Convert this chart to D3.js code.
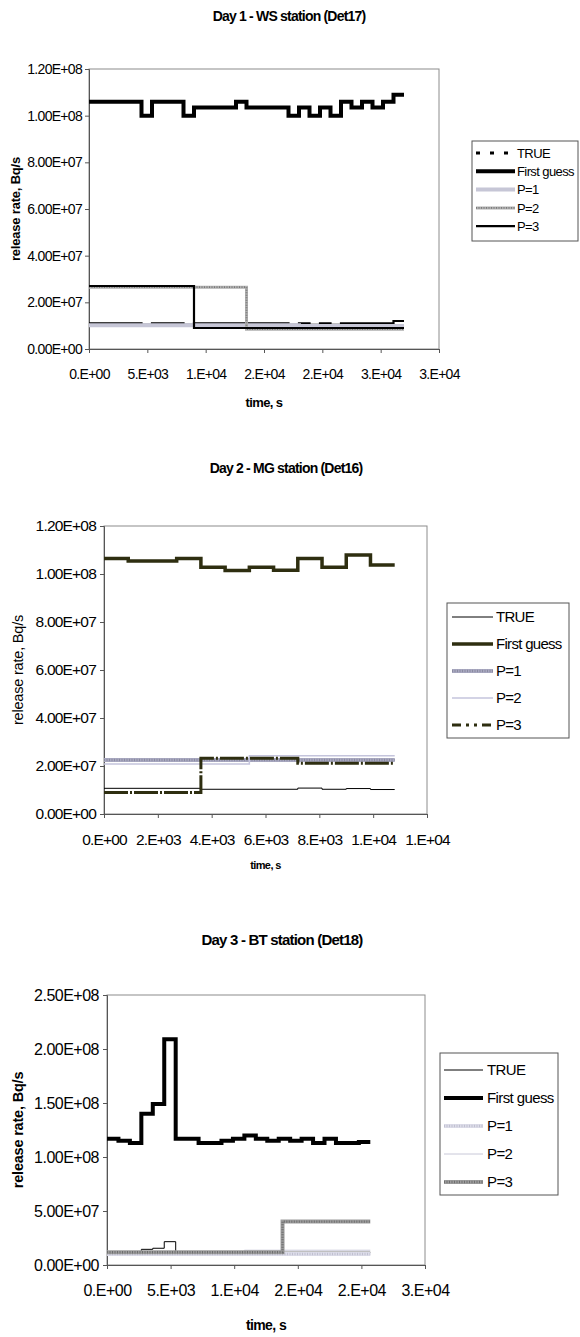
<!DOCTYPE html>
<html>
<head>
<meta charset="utf-8">
<script src="https://cdn.jsdelivr.net/npm/d3@7"></script>
<style>
  body { margin: 0; background: #fff; }
  text { font-family: "Liberation Sans", Arial, sans-serif; fill: #000; }
</style>
</head>
<body>
<script>
// ---- data: step series as [time s, release rate Bq/s] change points ----

var seriesNames = ["TRUE", "First guess", "P=1", "P=2", "P=3"];

// Day 1 - WS station
var d1True = [[0,1.1e7],[4500,1.04e7],[5400,1.1e7],[8100,1.04e7],[9000,1.1e7],[17100,1.04e7],[18000,1.1e7],
  [18900,1.04e7],[19800,1.1e7],[20700,1.04e7],[21600,1.1e7],[26100,1.2e7],[27000,1.2e7]];
var d1First = [[0,1.06e8],[4500,1.0e8],[5400,1.06e8],[8100,1.0e8],[9000,1.035e8],[12600,1.06e8],[13500,1.035e8],
  [17100,1.0e8],[18000,1.035e8],[18900,1.0e8],[19800,1.035e8],[20700,1.0e8],[21600,1.06e8],[22500,1.035e8],
  [23400,1.06e8],[24300,1.035e8],[25200,1.06e8],[26100,1.09e8],[27000,1.09e8]];
var d1P1 = [[0,1.02e7],[18000,0.99e7],[27000,0.99e7]];
var d1P2 = [[0,2.65e7],[13500,0.85e7],[27000,0.85e7]];
var d1P3 = [[0,2.7e7],[9000,0.9e7],[27000,0.9e7]];
var d1XTicks = [0,5000,10000,15000,20000,25000,30000];
var d1YTicks = [0,2e7,4e7,6e7,8e7,1e8,1.2e8];

// Day 2 - MG station
var d2True = [[0,1.07e7],[3600,1.03e7],[7200,1.08e7],[8100,1.03e7],[9000,1.06e7],[9900,1.02e7],[10800,1.02e7]];
var d2First = [[0,1.065e8],[900,1.054e8],[2700,1.065e8],[3600,1.028e8],[4500,1.015e8],[5400,1.028e8],
  [6300,1.016e8],[7200,1.065e8],[8100,1.028e8],[9000,1.079e8],[9900,1.038e8],[10800,1.038e8]];
var d2P1 = [[0,2.25e7],[10800,2.25e7]];
var d2P2 = [[0,2.08e7],[5400,2.43e7],[10800,2.43e7]];
var d2P3 = [[0,0.9e7],[3600,2.32e7],[7200,2.11e7],[10800,2.11e7]];
var d2XTicks = [0,2000,4000,6000,8000,10000,12000];
var d2YTicks = [0,2e7,4e7,6e7,8e7,1e8,1.2e8];

// Day 3 - BT station
var d3True = [[0,1.18e7],[2700,1.45e7],[3600,1.55e7],[4500,2.16e7],[5400,1.18e7],[20700,1.18e7]];
var d3First = [[0,1.17e8],[900,1.15e8],[1800,1.13e8],[2700,1.4e8],[3600,1.49e8],[4500,2.09e8],[5400,1.17e8],
  [7200,1.13e8],[9000,1.15e8],[9900,1.17e8],[10800,1.2e8],[11700,1.17e8],[12600,1.15e8],[13500,1.17e8],
  [14400,1.15e8],[15300,1.17e8],[16200,1.13e8],[17100,1.17e8],[18000,1.13e8],[19800,1.14e8],[20700,1.14e8]];
var d3P1 = [[0,1.02e7],[20700,1.02e7]];
var d3P2 = [[0,1.18e7],[10800,1.37e7],[20700,1.37e7]];
var d3P3 = [[0,1.18e7],[13800,4.02e7],[20700,4.02e7]];
var d3XTicks = [0,5000,10000,15000,20000,25000];
var d3YTicks = [0,5e7,1e8,1.5e8,2e8,2.5e8];

// Excel style number formats
function fmtY(v) {
  var s = v.toExponential(2).toUpperCase();
  return s.replace(/E([+-])(\d)$/, "E$10$2");
}
function fmtX(v) {
  var s = v.toExponential(0);
  return s.replace(/e([+-])(\d+)$/, function(m, sg, d) { return ".E" + sg + (d.length < 2 ? "0" + d : d); });
}

var svg = d3.select("body").append("svg")
  .attr("width", 580)
  .attr("height", 1337);

function drawChart(c) {
  var g = svg.append("g");

  var x = d3.scaleLinear().domain([0, c.xMax]).range([c.left, c.right]);
  var y = d3.scaleLinear().domain([0, c.yMax]).range([c.bottom, c.top]);

  // plot frame
  g.append("rect")
    .attr("x", c.left).attr("y", c.top)
    .attr("width", c.right - c.left).attr("height", c.bottom - c.top)
    .attr("fill", "none").attr("stroke", "#8c8c8c").attr("stroke-width", 1);

  // y axis
  var yAxis = g.append("g").attr("transform", "translate(" + c.left + ",0)")
    .call(d3.axisLeft(y).tickValues(c.yTicks).tickFormat(fmtY).tickSize(4).tickPadding(c.yPad));
  // x axis
  var xAxis = g.append("g").attr("transform", "translate(0," + c.bottom + ")")
    .call(d3.axisBottom(x).tickValues(c.xTicks).tickFormat(fmtX).tickSize(4).tickPadding(c.xPad));

  [yAxis, xAxis].forEach(function(a) {
    a.select(".domain").attr("stroke", "#555");
    a.selectAll(".tick line").attr("stroke", "#555");
    a.selectAll(".tick text")
      .style("font-family", '"Liberation Sans", Arial, sans-serif')
      .style("font-size", c.tickSize + "px")
      .style("letter-spacing", c.tickLs + "px")
      .attr("fill", "#000");
  });

  // series
  var line = d3.line()
    .curve(d3.curveStepAfter)
    .x(function(d) { return x(d[0]); })
    .y(function(d) { return y(d[1]); });

  c.series.forEach(function(s) {
    g.append("path")
      .attr("d", line(s.values))
      .attr("fill", "none")
      .attr("stroke", s.color)
      .attr("stroke-width", s.width)
      .attr("stroke-dasharray", s.dash || null);
    if (s.tex) {
      g.append("path")
        .attr("d", line(s.values))
        .attr("fill", "none")
        .attr("stroke", s.tex)
        .attr("stroke-width", s.width * 0.6)
        .attr("stroke-dasharray", "1,1.5");
    }
  });

  // titles
  g.append("text")
    .attr("x", c.titleX).attr("y", c.titleY)
    .attr("text-anchor", "middle")
    .style("font-weight", "bold")
    .style("font-size", c.titleSize + "px")
    .style("letter-spacing", "-0.8px")
    .text(c.title);

  g.append("text")
    .attr("x", (c.left + c.right) / 2).attr("y", c.xTitleY)
    .attr("text-anchor", "middle")
    .style("font-weight", "bold")
    .style("font-size", c.xTitleSize + "px")
    .style("letter-spacing", "-0.6px")
    .text("time, s");

  g.append("text")
    .attr("transform", "translate(" + c.yTitleX + "," + ((c.top + c.bottom) / 2) + ") rotate(-90)")
    .attr("text-anchor", "middle")
    .style("font-weight", c.yTitleWeight)
    .style("font-size", c.yTitleSize + "px")
    .style("letter-spacing", "-0.2px")
    .text("release rate, Bq/s");

  // legend
  var L = c.legend;
  g.append("rect")
    .attr("x", L.x).attr("y", L.y)
    .attr("width", L.w).attr("height", L.h)
    .attr("fill", "#fff").attr("stroke", "#555").attr("stroke-width", 1);

  c.series.forEach(function(s, i) {
    var ly = L.y + L.first + i * L.step;
    g.append("line")
      .attr("x1", L.x + L.lx0).attr("x2", L.x + L.lx1)
      .attr("y1", ly).attr("y2", ly)
      .attr("stroke", s.color)
      .attr("stroke-width", s.legendWidth || s.width)
      .attr("stroke-dasharray", s.legendDash || s.dash || null);
    if (s.tex) {
      g.append("line")
        .attr("x1", L.x + L.lx0).attr("x2", L.x + L.lx1)
        .attr("y1", ly).attr("y2", ly)
        .attr("stroke", s.tex)
        .attr("stroke-width", s.width * 0.6)
        .attr("stroke-dasharray", "1,1.5");
    }
    g.append("text")
      .attr("x", L.x + L.tx).attr("y", ly)
      .attr("dy", "0.36em")
      .style("font-size", L.size + "px")
      .style("letter-spacing", L.ls + "px")
      .text(seriesNames[i]);
  });
}

drawChart({
  title: "Day 1 - WS station (Det17)", titleX: 289, titleY: 21, titleSize: 14,
  left: 89, right: 439, top: 69, bottom: 349,
  xMax: 30000, yMax: 1.2e8, xTicks: d1XTicks, yTicks: d1YTicks,
  tickSize: 14, tickLs: -0.7, yPad: 3, xPad: 16,
  xTitleY: 407, xTitleSize: 13, yTitleX: 20, yTitleSize: 13, yTitleWeight: "bold",
  legend: { x: 472, y: 141, w: 106, h: 100, first: 12, step: 18.3, lx0: 4, lx1: 43, tx: 45, size: 13, ls: -0.6 },
  series: [
    { values: d1True, color: "#000", width: 2.2, legendWidth: 3, legendDash: "4,10" },
    { values: d1First, color: "#000", width: 4 },
    { values: d1P1, color: "#c6c6d6", width: 4 },
    { values: d1P2, color: "#b0b0b0", width: 3, tex: "#7a7a7a" },
    { values: d1P3, color: "#000", width: 2.2 }
  ]
});

drawChart({
  title: "Day 2 - MG station (Det16)", titleX: 286, titleY: 473, titleSize: 14,
  left: 104, right: 427, top: 526, bottom: 814,
  xMax: 12000, yMax: 1.2e8, xTicks: d2XTicks, yTicks: d2YTicks,
  tickSize: 15.5, tickLs: -0.8, yPad: 4, xPad: 16,
  xTitleY: 869, xTitleSize: 11, yTitleX: 23, yTitleSize: 14.5, yTitleWeight: "normal",
  legend: { x: 447, y: 603, w: 122, h: 135, first: 14, step: 27, lx0: 5, lx1: 46, tx: 49, size: 15, ls: -0.7 },
  series: [
    { values: d2True, color: "#000", width: 1 },
    { values: d2First, color: "#2e2e10", width: 3.5 },
    { values: d2P1, color: "#a8a8c0", width: 4, tex: "#8a8aa0" },
    { values: d2P2, color: "#c4c4dc", width: 1.5 },
    { values: d2P3, color: "#2e2e10", width: 3, dash: "24,2,2,2", legendDash: "9,5,3,5,3,5" }
  ]
});

drawChart({
  title: "Day 3 - BT station (Det18)", titleX: 282, titleY: 945, titleSize: 15,
  left: 107, right: 425, top: 995, bottom: 1265,
  xMax: 25000, yMax: 2.5e8, xTicks: d3XTicks, yTicks: d3YTicks,
  tickSize: 16, tickLs: -0.5, yPad: 4, xPad: 16,
  xTitleY: 1330, xTitleSize: 14, yTitleX: 23, yTitleSize: 14.5, yTitleWeight: "bold",
  legend: { x: 440, y: 1053, w: 118, h: 142, first: 17, step: 28, lx0: 4, lx1: 43, tx: 47, size: 15, ls: -0.6 },
  series: [
    { values: d3True, color: "#000", width: 1 },
    { values: d3First, color: "#000", width: 4 },
    { values: d3P1, color: "#dcdce8", width: 4, tex: "#c0c0d0" },
    { values: d3P2, color: "#c8c8d8", width: 1 },
    { values: d3P3, color: "#9c9c9c", width: 4, tex: "#6e6e6e" }
  ]
});
</script>
</body>
</html>
